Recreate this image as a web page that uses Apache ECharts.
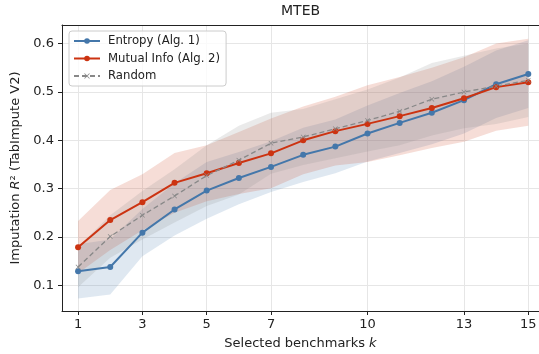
<!DOCTYPE html>
<html><head><meta charset="utf-8">
<script src="https://cdn.jsdelivr.net/npm/echarts@6/dist/echarts.min.js"></script>
<style>html,body{margin:0;padding:0;background:#fff}#c{width:539px;height:354px}</style>
</head><body><div id="c"></div>
<script>
const k = [1,2,3,4,5,6,7,8,9,10,11,12,13,14,15];
const xTicks = [1,3,5,7,10,13,15];
const yTicks = [0.1,0.2,0.3,0.4,0.5,0.6];

const entropy   = [0.129,0.138,0.209,0.257,0.296,0.322,0.345,0.370,0.387,0.414,0.436,0.457,0.483,0.516,0.537];
const entropyLo = [0.073,0.081,0.160,0.203,0.238,0.268,0.293,0.314,0.332,0.356,0.374,0.392,0.414,0.446,0.467];
const entropyHi = [0.185,0.195,0.258,0.311,0.355,0.376,0.398,0.426,0.443,0.472,0.498,0.522,0.552,0.586,0.607];

const mutual    = [0.179,0.235,0.272,0.312,0.332,0.353,0.373,0.400,0.419,0.434,0.450,0.467,0.487,0.510,0.520];
const mutualLo  = [0.125,0.173,0.214,0.250,0.274,0.289,0.301,0.330,0.348,0.355,0.369,0.384,0.397,0.420,0.430];
const mutualHi  = [0.233,0.297,0.330,0.374,0.390,0.417,0.445,0.470,0.490,0.514,0.531,0.550,0.572,0.600,0.610];

const random    = [0.138,0.201,0.245,0.285,0.327,0.359,0.394,0.407,0.424,0.441,0.460,0.485,0.500,0.512,0.524];
const randomLo  = [0.096,0.157,0.195,0.230,0.264,0.288,0.331,0.349,0.363,0.377,0.390,0.410,0.425,0.434,0.448];
const randomHi  = [0.180,0.245,0.295,0.340,0.390,0.430,0.457,0.465,0.485,0.505,0.530,0.560,0.575,0.590,0.600];

const BLUE = '#4477AA', RED = '#CC3311', GRAY = '#888888';
const FONT = 'DejaVu Sans';
const XMARK = 'path://M0,1L1,0L5,4L9,0L10,1L6,5L10,9L9,10L5,6L1,10L0,9L4,5Z';

function pairs(arr){ return k.map((x,i)=>[x, arr[i]]); }
function band(lo, hi, color, op){
  return {
    type:'custom', silent:true, z:1,
    data:k.map((x,i)=>[x, lo[i], hi[i]]),
    encode:{x:0, y:[1,2]},
    renderItem:function(params, api){
      if (params.dataIndex !== 0) return null;
      const top = k.map((x,i)=>api.coord([x, hi[i]]));
      const bot = k.map((x,i)=>api.coord([x, lo[i]])).reverse();
      return {type:'polygon', shape:{points:top.concat(bot)},
        style:{fill:color, opacity:op}};
    }
  };
}

const chart = echarts.init(document.getElementById('c'), null, {renderer:'canvas'});
chart.setOption({
  animation:false,
  backgroundColor:'#fff',
  title:{text:'MTEB', left:281, top:4, padding:0,
    textStyle:{fontSize:14, fontWeight:'normal', color:'#222', fontFamily:FONT}},
  grid:{left:62, right:0, top:25, bottom:43, outerBoundsMode:'none'},
  legend:{
    data:['Entropy (Alg. 1)','Mutual Info (Alg. 2)','Random'],
    orient:'vertical', left:69, top:31, padding:[3,6,3,4], itemGap:3.5,
    itemWidth:26, itemHeight:7,
    backgroundColor:'rgba(255,255,255,0.8)', borderColor:'#cccccc', borderWidth:1, borderRadius:3,
    textStyle:{fontSize:11.7, color:'#222', fontFamily:FONT, padding:[0,0,0,3], lineHeight:14}
  },
  xAxis:[{
    type:'value', min:0.5, max:15.333, position:'bottom',
    name:'{a|Selected benchmarks }{i|k}', nameLocation:'middle', nameGap:26,
    nameTextStyle:{rich:{a:{fontSize:13, fontFamily:FONT, color:'#222'}, i:{fontSize:13, fontFamily:FONT, fontStyle:'italic', color:'#222'}}},
    axisLine:{show:true, onZero:false, lineStyle:{color:'#222', width:1}},
    axisTick:{show:true, inside:false, length:4, customValues:xTicks, lineStyle:{color:'#222', width:1}},
    axisLabel:{customValues:xTicks, fontSize:13, color:'#222', fontFamily:FONT, margin:7},
    splitLine:{show:true, lineStyle:{color:'#e6e6e6', width:1}}
  },{
    type:'value', min:0.5, max:15.333, position:'top',
    axisLine:{show:true, onZero:false, lineStyle:{color:'#222', width:1}},
    axisTick:{show:false}, axisLabel:{show:false}, splitLine:{show:false}
  }],
  yAxis:{
    type:'value', min:0.047, max:0.6385,
    name:'{a|Imputation }{i|R}{a|² (TabImpute V2)}', nameLocation:'middle', nameGap:35,
    nameTextStyle:{rich:{a:{fontSize:13, fontFamily:FONT, color:'#222'}, i:{fontSize:13, fontFamily:FONT, fontStyle:'italic', color:'#222'}}},
    axisLine:{show:true, lineStyle:{color:'#222', width:1}},
    axisTick:{show:true, inside:false, length:4, customValues:yTicks, lineStyle:{color:'#222', width:1}},
    axisLabel:{customValues:yTicks, fontSize:13, color:'#222', fontFamily:FONT, margin:8,
      formatter:v=>v.toFixed(1)},
    splitLine:{show:true, lineStyle:{color:'#e6e6e6', width:1}}
  },
  series:[
    band(entropyLo, entropyHi, BLUE, 0.17),
    band(mutualLo, mutualHi, RED, 0.17),
    band(randomLo, randomHi, GRAY, 0.18),
    {type:'line', name:'Entropy (Alg. 1)', data:pairs(entropy), symbol:'circle', symbolSize:6,
     itemStyle:{color:BLUE}, lineStyle:{color:BLUE, width:2}, z:3},
    {type:'line', name:'Mutual Info (Alg. 2)', data:pairs(mutual), symbol:'circle', symbolSize:6,
     itemStyle:{color:RED}, lineStyle:{color:RED, width:2}, z:3},
    {type:'line', name:'Random', data:pairs(random), symbol:XMARK, symbolSize:5,
     itemStyle:{color:GRAY}, lineStyle:{color:GRAY, width:1.3, type:[5,3]}, z:3}
  ]
});
</script>
</body></html>
